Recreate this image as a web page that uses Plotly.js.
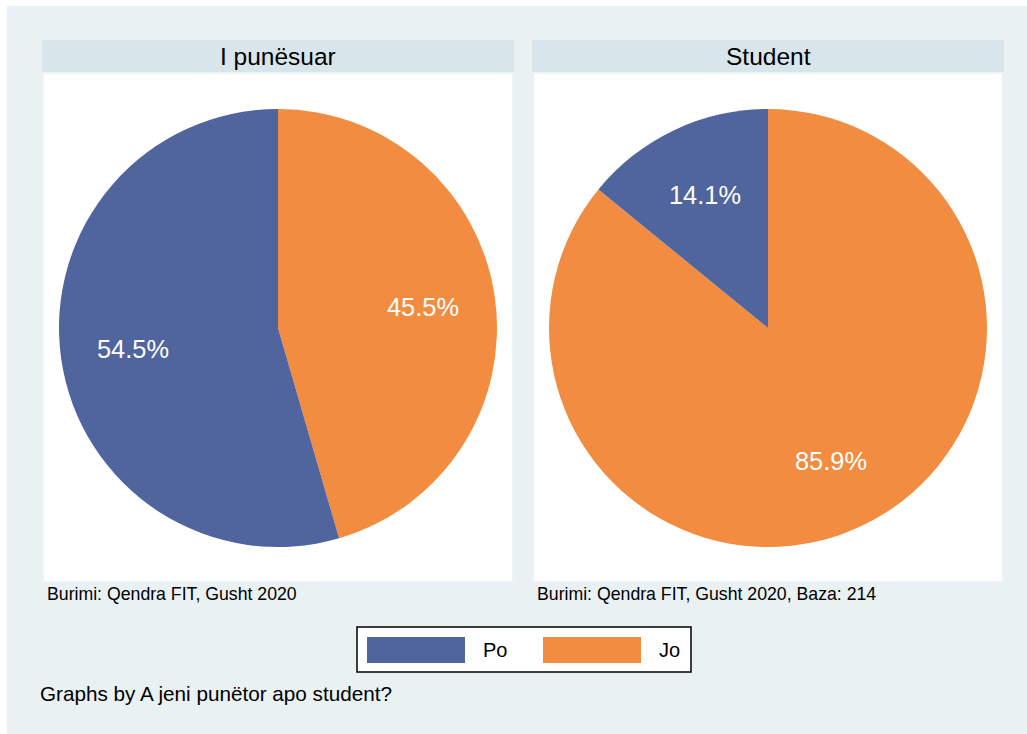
<!DOCTYPE html>
<html>
<head>
<meta charset="utf-8">
<script src="https://cdn.plot.ly/plotly-3.0.1.min.js"></script>
<style>html,body{margin:0;padding:0;background:#fff;}#chart{width:1027px;height:734px;}</style>
</head>
<body>
<div id="chart"></div>
<script>
// ---- data ----
const categories = ['Po', 'Jo'];
const panelTitles = ['I punësuar', 'Student'];
const employedValues = [54.5, 45.5];
const studentValues = [14.1, 85.9];
const notes = ['Burimi: Qendra FIT, Gusht 2020', 'Burimi: Qendra FIT, Gusht 2020, Baza: 214'];
const byNote = 'Graphs by A jeni punëtor apo student?';

// ---- styles / layout ----
const W = 1027, H = 734;
const FONT = 'Liberation Sans, Arial, Helvetica, sans-serif';
const sliceColors = ['#50659E', '#F28C40'];
const outerBg = '#E9F1F3';
const stripBg = '#D8E5EA';
const px = x => x / W;
const py = y => 1 - y / H;

const panels = [
  {values: employedValues, title: panelTitles[0], note: notes[0], x0: 42, x1: 514, cx: 278, cy: 328},
  {values: studentValues, title: panelTitles[1], note: notes[1], x0: 532, x1: 1004, cx: 768, cy: 328}
];
const R = 219;

const data = [];
const shapes = [];
const annotations = [];

shapes.push({type: 'rect', xref: 'paper', yref: 'paper', x0: px(7), x1: px(W), y0: py(H), y1: py(6),
  fillcolor: outerBg, line: {width: 0}, layer: 'below'});

panels.forEach(p => {
  // strip
  shapes.push({type: 'rect', xref: 'paper', yref: 'paper', x0: px(p.x0), x1: px(p.x1), y0: py(72), y1: py(40),
    fillcolor: stripBg, line: {width: 0}, layer: 'below'});
  // plot region
  shapes.push({type: 'rect', xref: 'paper', yref: 'paper', x0: px(p.x0 + 1), x1: px(p.x1 - 1), y0: py(582), y1: py(73),
    fillcolor: '#FFFFFF', line: {width: 2, color: '#EDF3F5'}, layer: 'below'});
  // slices run anticlockwise from 12 o'clock (Po first): feed them to a clockwise pie in reverse order
  data.push({
    type: 'pie',
    labels: categories.slice().reverse(),
    values: p.values.slice().reverse(),
    sort: false,
    direction: 'clockwise',
    rotation: 0,
    textinfo: 'none',
    hoverinfo: 'label+percent',
    marker: {colors: sliceColors.slice().reverse(), line: {width: 0}},
    showlegend: false,
    domain: {x: [px(p.cx - R), px(p.cx + R)], y: [py(p.cy + R), py(p.cy - R)]}
  });
  annotations.push({xref: 'paper', yref: 'paper', x: px((p.x0 + p.x1) / 2), y: py(56), text: p.title,
    showarrow: false, xanchor: 'center', yanchor: 'middle', font: {family: FONT, size: 24.5, color: '#000'}});
  annotations.push({xref: 'paper', yref: 'paper', x: px(p.x0 + 3), y: py(594), text: p.note,
    showarrow: false, xanchor: 'left', yanchor: 'middle', font: {family: FONT, size: 17.7, color: '#000'}});
  // slice labels, placed at 0.67 radius along each slice's mid-angle (anticlockwise from 12 o'clock)
  const total = p.values.reduce((a, b) => a + b, 0);
  let cum = 0;
  p.values.forEach(v => {
    const f = v / total;
    const theta = (90 + 360 * (cum + f / 2)) * Math.PI / 180;
    cum += f;
    const lx = p.cx + 0.67 * R * Math.cos(theta);
    const ly = p.cy - 0.67 * R * Math.sin(theta);
    annotations.push({xref: 'paper', yref: 'paper', x: px(lx), y: py(ly), text: (100 * f).toFixed(1) + '%',
      showarrow: false, xanchor: 'center', yanchor: 'middle', font: {family: FONT, size: 25.4, color: '#FFFFFF'}});
  });
});

// legend
shapes.push({type: 'rect', xref: 'paper', yref: 'paper', x0: px(357), x1: px(691), y0: py(672), y1: py(627),
  fillcolor: '#FFFFFF', line: {width: 1.5, color: '#000'}});
const swatchX = [367, 543];
const labelX = [481, 657];
categories.forEach((c, i) => {
  shapes.push({type: 'rect', xref: 'paper', yref: 'paper', x0: px(swatchX[i]), x1: px(swatchX[i] + 98), y0: py(663), y1: py(637),
    fillcolor: sliceColors[i], line: {width: 0}});
  annotations.push({xref: 'paper', yref: 'paper', x: px(labelX[i]), y: py(650), text: c,
    showarrow: false, xanchor: 'left', yanchor: 'middle', font: {family: FONT, size: 20, color: '#000'}});
});

annotations.push({xref: 'paper', yref: 'paper', x: px(38), y: py(693), text: byNote,
  showarrow: false, xanchor: 'left', yanchor: 'middle', font: {family: FONT, size: 20.7, color: '#000'}});

const layout = {
  width: W, height: H,
  margin: {l: 0, r: 0, t: 0, b: 0},
  paper_bgcolor: '#FFFFFF',
  plot_bgcolor: '#FFFFFF',
  showlegend: false,
  shapes: shapes,
  annotations: annotations,
  font: {family: FONT}
};

Plotly.newPlot('chart', data, layout, {displayModeBar: false, staticPlot: true});
</script>
</body>
</html>
